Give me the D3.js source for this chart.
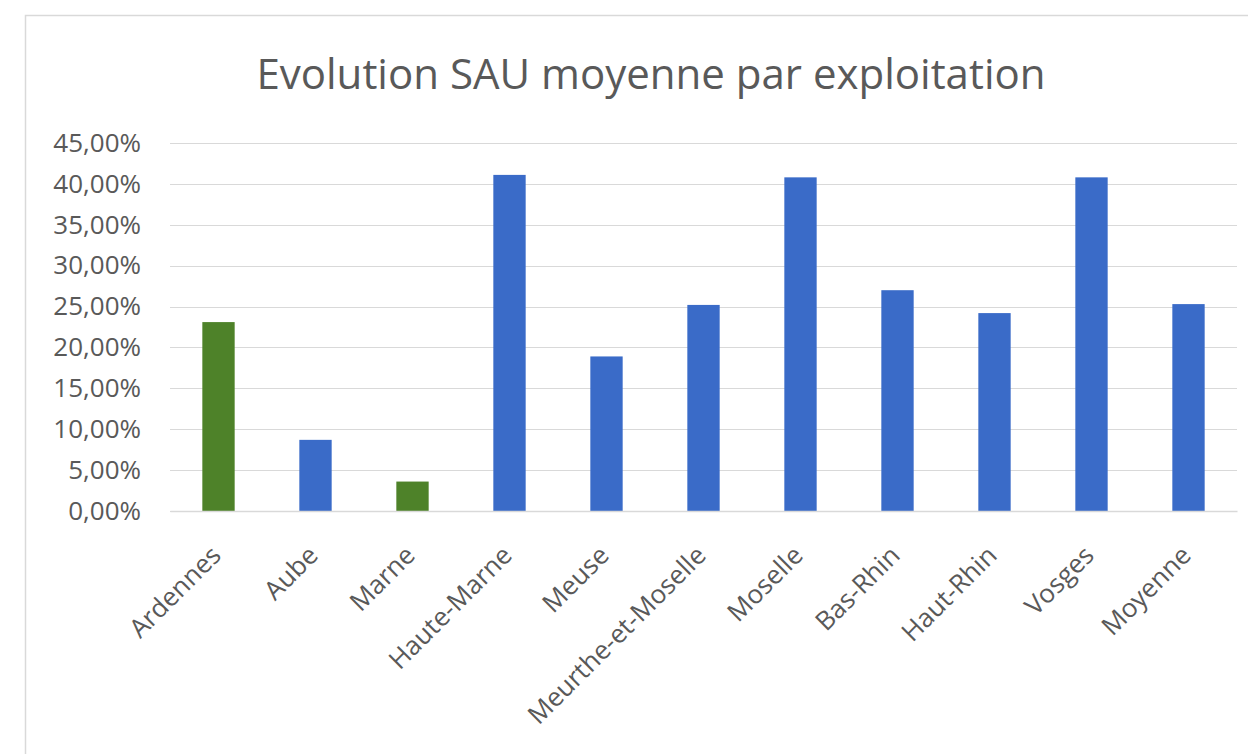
<!DOCTYPE html>
<html>
<head>
<meta charset="utf-8">
<script src="https://cdn.jsdelivr.net/npm/d3@7"></script>
<style>
  html, body { margin: 0; padding: 0; background: #fff; }
  svg { display: block; }
  text { font-family: "Open Sans", "DejaVu Sans", sans-serif; }
</style>
</head>
<body>
<svg id="chart" width="1248" height="754"></svg>
<script>
// Chart data
const departements = ["Ardennes", "Aube", "Marne", "Haute-Marne", "Meuse", "Meurthe-et-Moselle",
                      "Moselle", "Bas-Rhin", "Haut-Rhin", "Vosges", "Moyenne"];
const evolution = [0.231, 0.087, 0.036, 0.411, 0.189, 0.252, 0.408, 0.270, 0.242, 0.408, 0.253];
const groupe = ["vert", "bleu", "vert", "bleu", "bleu", "bleu", "bleu", "bleu", "bleu", "bleu", "bleu"];
const yTicks = [0, 0.05, 0.10, 0.15, 0.20, 0.25, 0.30, 0.35, 0.40, 0.45];
const titre = "Evolution SAU moyenne par exploitation";

const colors = { vert: "#4e8229", bleu: "#3a6bc8" };
const textColor = "#595959";
const font = "'Open Sans', 'DejaVu Sans', sans-serif";

const svg = d3.select("#chart");
const margin = { top: 143, right: 11, bottom: 243, left: 170 };
const width = 1248 - margin.left - margin.right;
const height = 754 - margin.top - margin.bottom;

// chart frame
svg.append("rect")
    .attr("x", 25.5).attr("y", 15.5)
    .attr("width", 1400).attr("height", 900)
    .attr("fill", "none")
    .attr("stroke", "#d9d9d9")
    .attr("stroke-width", 1.5);

const g = svg.append("g")
    .attr("transform", `translate(${margin.left},${margin.top})`);

const x = d3.scaleBand()
    .domain(departements)
    .range([0, width])
    .paddingInner(2 / 3)
    .paddingOuter(1 / 3);

const y = d3.scaleLinear()
    .domain([0, 0.45])
    .range([height, 0]);

const pct = v => d3.format(".2f")(v * 100).replace(".", ",") + "%";

// gridlines
g.append("g")
    .selectAll("line")
    .data(yTicks)
    .enter().append("line")
    .attr("x1", 0).attr("x2", width)
    .attr("y1", d => Math.round(y(d)) + 0.5)
    .attr("y2", d => Math.round(y(d)) + 0.5)
    .attr("stroke", "#d9d9d9")
    .attr("stroke-width", 1.2);

// y axis labels
const yAxis = g.append("g")
    .call(d3.axisLeft(y).tickValues(yTicks).tickFormat(pct).tickSize(0).tickPadding(29));
yAxis.attr("font-family", font);
yAxis.select(".domain").remove();
yAxis.selectAll("text")
    .attr("fill", textColor)
    .attr("font-size", "26px");

// bars
g.selectAll(".bar")
    .data(departements)
    .enter().append("rect")
    .attr("class", "bar")
    .attr("x", d => x(d))
    .attr("y", (d, i) => y(evolution[i]))
    .attr("width", x.bandwidth())
    .attr("height", (d, i) => height - y(evolution[i]))
    .attr("fill", (d, i) => colors[groupe[i]]);

// x axis
const xAxis = g.append("g")
    .attr("transform", `translate(0,${height})`)
    .call(d3.axisBottom(x).tickSize(0).tickPadding(0));
xAxis.attr("font-family", font);
xAxis.select(".domain")
    .attr("stroke", "#d9d9d9")
    .attr("stroke-width", 1.5);
xAxis.selectAll("text")
    .attr("fill", textColor)
    .attr("font-size", "26px")
    .attr("text-anchor", "end")
    .attr("dy", "0")
    .attr("transform", "translate(4,46) rotate(-45)");

// title
svg.append("text")
    .attr("x", 651)
    .attr("y", 89)
    .attr("text-anchor", "middle")
    .attr("fill", textColor)
    .attr("font-family", font)
    .attr("font-size", "42px")
    .text(titre);
</script>
</body>
</html>
